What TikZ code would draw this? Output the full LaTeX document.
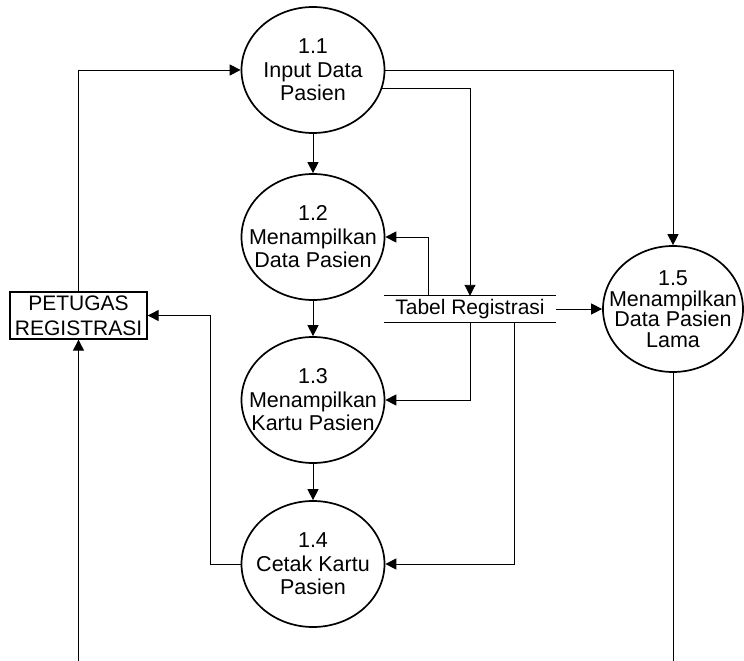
\documentclass[tikz,border=0pt]{standalone}
\usepackage{fontspec}
\setmainfont{Liberation Sans}
\usetikzlibrary{shapes.geometric, arrows.meta, positioning}

\begin{document}
\begin{tikzpicture}[
    x=1pt, y=-1pt,
    proses/.style={ellipse, draw, line width=1.7pt, minimum width=143pt, minimum height=126pt, inner xsep=-30pt, inner ysep=-20pt, align=center, font=\fontsize{21.5}{23.5}\selectfont},
    entitas/.style={rectangle, draw, line width=1.3pt, minimum width=137pt, minimum height=47pt, inner sep=0pt, align=center, font=\fontsize{21}{25}\selectfont},
    simpan/.style={rectangle, minimum width=172pt, minimum height=26pt, inner sep=0pt, font=\fontsize{21}{24}\selectfont},
    arrow/.style={line width=0.9pt, -{Triangle[length=11pt, width=11pt]}}
]
\useasboundingbox (0,0) rectangle (744,661);

% Entitas luar
\node[entitas] (petugas) at (78.5, 315.5) {PETUGAS\\REGISTRASI};

% Proses
\node[proses] (p11) at (313, 70) {1.1\\Input Data\\Pasien};
\node[proses] (p12) at (313, 237) {1.2\\Menampilkan\\Data Pasien};
\node[proses] (p13) at (313, 400) {1.3\\Menampilkan\\Kartu Pasien};
\node[proses] (p14) at (313, 564) {1.4\\Cetak Kartu\\Pasien};
\node[proses, minimum width=140pt, font=\fontsize{21.5}{20.5}\selectfont] (p15) at (673, 309) {1.5\\Menampilkan\\Data Pasien\\Lama};

% Data store
\node[simpan] (tabel) at (470, 309) {Tabel Registrasi};
\draw[line width=0.9pt] (tabel.north west) -- (tabel.north east)
    (tabel.south west) -- (tabel.south east);

% Ujung bebas
\coordinate (bawahkiri) at (78.5, 661);
\coordinate (bawahkanan) at (673, 661);

% Alur data
\draw[arrow] (petugas.north) |- (p11.west);
\draw[arrow] (p11.east) -| (p15.north);
\draw[arrow] (p11.-15) -| (tabel.north);
\draw[arrow] (p11) -- (p12);
\draw[arrow] ([xshift=-42pt]tabel.north) |- (p12.east);
\draw[arrow] (p12) -- (p13);
\draw[arrow] (tabel.south) |- (p13.east);
\draw[arrow] (p13) -- (p14);
\draw[arrow] ([xshift=44pt]tabel.south) |- (p14.east);
\draw[arrow] (p14.west) -- ++(-30,0) |- (petugas.east);
\draw[arrow] (tabel.east) -- (p15.west);
\draw[arrow] (bawahkiri) -- (petugas.south);
\draw[line width=0.9pt] (p15.south) -- (bawahkanan);

\end{tikzpicture}
\end{document}
